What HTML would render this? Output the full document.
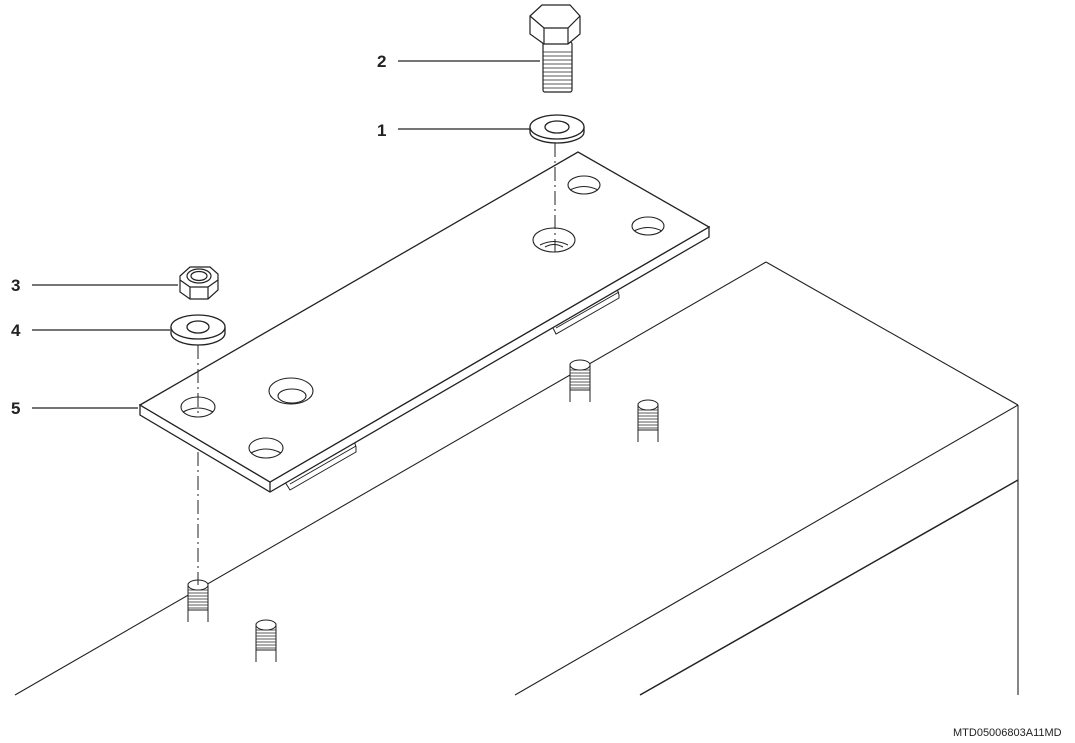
<!DOCTYPE html>
<html><head><meta charset="utf-8"><style>
html,body{margin:0;padding:0;background:#fff;width:1075px;height:743px;overflow:hidden}
svg{display:block}
text{font-family:"Liberation Sans",Arial,sans-serif;fill:#222}
</style></head><body>
<svg width="1075" height="743" viewBox="0 0 1075 743" xmlns="http://www.w3.org/2000/svg">
<g fill="none" stroke="#222" stroke-width="1.1">
<line x1="15" y1="695" x2="766" y2="262"/>
<line x1="766" y1="262" x2="1018" y2="405"/>
<line x1="1018" y1="405" x2="1018" y2="695"/>
<line x1="1018" y1="405" x2="515" y2="695"/>
<line x1="1018" y1="480" x2="640" y2="695" stroke-width="1.5"/>
</g>
<g fill="#fff" stroke="#222" stroke-width="1">
<g><path d="M570 368 V402 M590 368 V402"/><rect x="570" y="364" width="20" height="26"/><ellipse cx="580" cy="365" rx="10" ry="5"/><path d="M570 370h20M570 373h20M570 376h20M570 379h20M570 382h20M570 385h20M570 388h20" stroke-width="0.7"/></g>
<g transform="translate(68,40)"><path d="M570 368 V402 M590 368 V402"/><rect x="570" y="364" width="20" height="26"/><ellipse cx="580" cy="365" rx="10" ry="5"/><path d="M570 370h20M570 373h20M570 376h20M570 379h20M570 382h20M570 385h20M570 388h20" stroke-width="0.7"/></g>
<g transform="translate(-382,220)"><path d="M570 368 V402 M590 368 V402"/><rect x="570" y="364" width="20" height="26"/><ellipse cx="580" cy="365" rx="10" ry="5"/><path d="M570 370h20M570 373h20M570 376h20M570 379h20M570 382h20M570 385h20M570 388h20" stroke-width="0.7"/></g>
<g transform="translate(-314,260)"><path d="M570 368 V402 M590 368 V402"/><rect x="570" y="364" width="20" height="26"/><ellipse cx="580" cy="365" rx="10" ry="5"/><path d="M570 370h20M570 373h20M570 376h20M570 379h20M570 382h20M570 385h20M570 388h20" stroke-width="0.7"/></g>
</g>
<g fill="#fff" stroke="#222" stroke-width="1">
<polygon points="285,476 353,437 356,447 356,452 290,490 285,482"/>
<line x1="290" y1="484" x2="356" y2="446"/>
<polygon points="553,322 616,285 619,295 619,298 556,334 553,328"/>
<line x1="556" y1="328" x2="619" y2="292"/>
</g>
<g fill="#fff" stroke="#222" stroke-width="1.3">
<polygon points="140,405 140,415 270,492 709,237 709,227 270,482"/>
<line x1="270" y1="482" x2="270" y2="492"/>
<polygon points="140,405 578,152 709,227 270,482"/>
</g>
<g fill="#fff" stroke="#222" stroke-width="1.1">
<ellipse cx="198" cy="407" rx="17" ry="10"/><path d="M183 412 Q198 404 213 412"/>
<ellipse cx="291" cy="391" rx="22" ry="13"/><ellipse cx="292" cy="396" rx="14" ry="7"/>
<ellipse cx="266" cy="448" rx="17" ry="10"/><path d="M251 453 Q266 445 281 453"/>
<ellipse cx="584" cy="185" rx="16" ry="9"/><path d="M570 190 Q584 183 598 190"/>
<ellipse cx="648" cy="226" rx="16" ry="9"/><path d="M634 231 Q648 224 662 231"/>
<ellipse cx="554" cy="240" rx="21" ry="12"/><path d="M540 245 Q554 238 568 245"/><path d="M545 247 Q554 242 563 247"/>
</g>
<g stroke="#222" stroke-width="1" stroke-dasharray="14,4,2,4">
<line x1="555" y1="143" x2="555" y2="252"/>
<line x1="198" y1="345" x2="198" y2="414"/>
<line x1="198" y1="452" x2="198" y2="585"/>
</g>
<g fill="#fff" stroke="#222" stroke-width="1.2">
<rect x="543" y="42" width="29" height="50" rx="2"/>
<path d="M543 52h29M543 56h29M543 60h29M543 64h29M543 68h29M543 72h29M543 76h29M543 80h29M543 84h29M543 88h29" stroke-width="0.7"/>
<polygon points="530,16 542,5 570,5 580,16 580,34 568,44 544,44 530,34"/>
<path d="M530 16 L544 28 L568 28 L580 16 M544 28 V44 M568 28 V44"/>
</g>
<g fill="#fff" stroke="#222" stroke-width="1.3">
<path d="M530 127 v5 a27 11 0 0 0 54 0 v-5"/>
<ellipse cx="557" cy="127" rx="27" ry="12"/>
<ellipse cx="557" cy="127" rx="12" ry="6"/>
</g>
<g fill="#fff" stroke="#222" stroke-width="1.2">
<polygon points="180,276 190,267 210,267 218,274 218,290 208,299 190,299 180,292"/>
<path d="M180 280 L190 287 L208 287 L218 280 M190 287 V299 M208 287 V299"/>
<ellipse cx="199" cy="276" rx="12" ry="7"/>
<ellipse cx="199" cy="276" rx="8" ry="4.5"/>
</g>
<g fill="#fff" stroke="#222" stroke-width="1.3">
<path d="M171 327 v6 a27 12 0 0 0 54 0 v-6"/>
<ellipse cx="198" cy="327" rx="27" ry="12"/>
<ellipse cx="198" cy="327" rx="11" ry="6"/>
</g>
<g stroke="#222" stroke-width="1.2">
<line x1="398" y1="61" x2="540" y2="61"/>
<line x1="398" y1="129" x2="530" y2="129"/>
<line x1="32" y1="285" x2="178" y2="285"/>
<line x1="32" y1="330" x2="170" y2="330"/>
<line x1="32" y1="408" x2="138" y2="408"/>
</g>
<g font-size="17" font-weight="bold">
<text x="377" y="67">2</text>
<text x="377" y="136">1</text>
<text x="11" y="291">3</text>
<text x="11" y="336">4</text>
<text x="11" y="414">5</text>
</g>
<text x="953" y="736" font-size="11">MTD05006803A11MD</text>
</svg>
</body></html>
